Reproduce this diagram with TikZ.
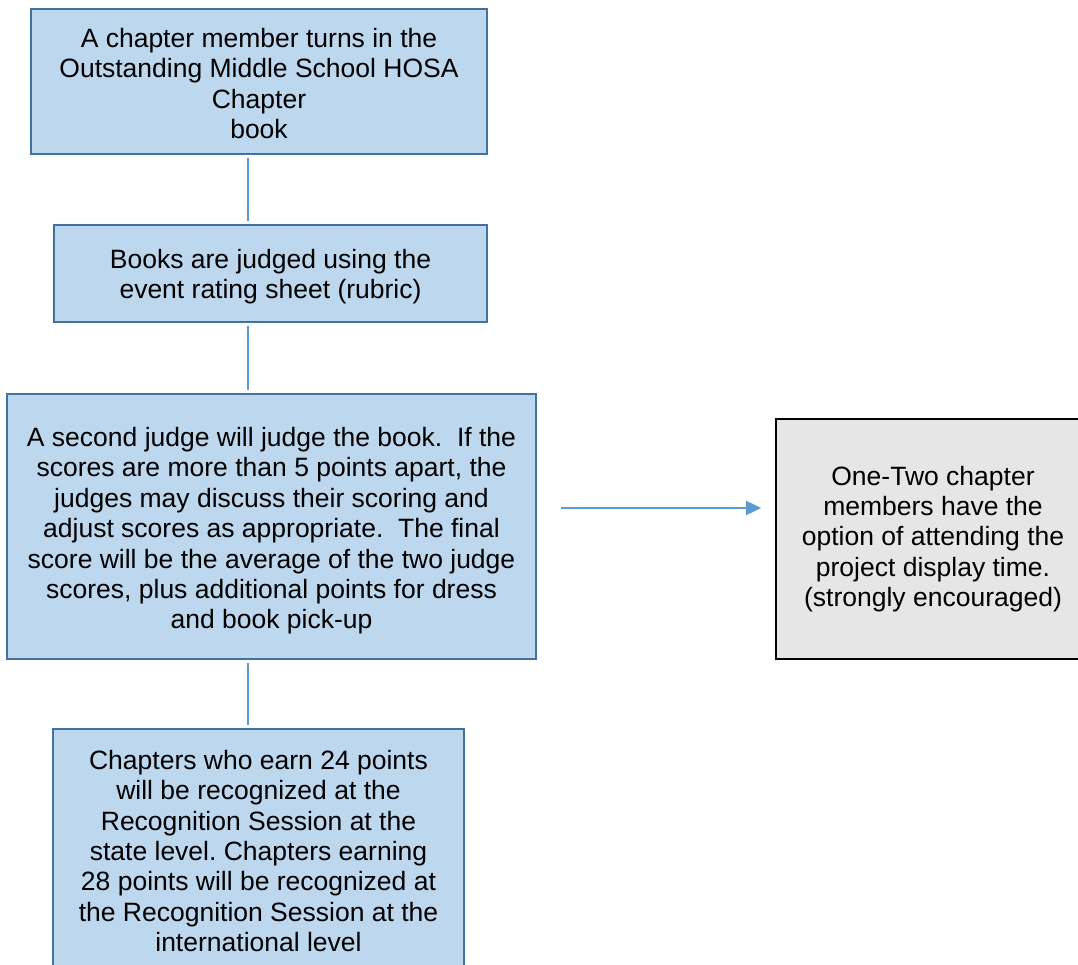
\documentclass[tikz,border=0pt]{standalone}
\usepackage{fontspec}
\setmainfont{Liberation Sans}
\usetikzlibrary{arrows.meta}
\frenchspacing
\definecolor{boxfill}{HTML}{BDD7EE}
\definecolor{boxline}{HTML}{41719C}
\definecolor{conn}{HTML}{5B9BD5}
\definecolor{grayfill}{HTML}{E6E6E6}
\begin{document}
\begin{tikzpicture}[x=1pt,y=-1pt,
  bluebox/.style={draw=boxline, fill=boxfill, line width=2pt, rectangle, align=center, inner sep=0pt,
    font=\fontsize{26.5}{30.4}\selectfont},
  graybox/.style={draw=black, fill=grayfill, line width=1.6pt, rectangle, align=center, inner sep=0pt,
    font=\fontsize{26.5}{30.4}\selectfont},
  link/.style={draw=conn, line width=1.4pt},
  arrowlink/.style={draw=conn, line width=1.4pt, -{Triangle[length=15pt,width=14pt]}}]
\useasboundingbox (0,0) rectangle (1078,965);
\clip (0,0) rectangle (1078,965);
\node[bluebox, minimum width=456pt, minimum height=145pt] (b1) at (259,81.5)
  {\rule{0pt}{23.5pt}A chapter member turns in the\\Outstanding Middle School HOSA\\Chapter\\book};
\node[bluebox, minimum width=433pt, minimum height=97pt] (b2) at (270.5,273.5)
  {\rule{0pt}{25.5pt}Books are judged using the\\event rating sheet (rubric)};
\node[bluebox, minimum width=529pt, minimum height=265pt] (b3) at (271.5,526)
  {\rule{0pt}{29pt}A second judge will judge the book.\ \ If the\\scores are more than 5 points apart, the\\judges may discuss their scoring and\\adjust scores as appropriate.\ \ The final\\score will be the average of the two judge\\scores, plus additional points for dress\\and book pick-up};
\node[bluebox, minimum width=411pt, minimum height=244pt] (b4) at (258.5,851)
  {Chapters who earn 24 points\\will be recognized at the\\Recognition Session at the\\state level. Chapters earning\\28 points will be recognized at\\the Recognition Session at the\\international level};
\node[graybox, minimum width=314pt, minimum height=240pt] (g) at (933,539)
  {One-Two chapter\\members have the\\option of attending the\\project display time.\\(strongly encouraged)};
\coordinate (axis) at (248,0);
\coordinate (row) at (0,508);
\draw[link, shorten <=3pt, shorten >=3pt] (b1.south -| axis) -- (b2.north -| axis);
\draw[link, shorten <=3pt, shorten >=3pt] (b2.south -| axis) -- (b3.north -| axis);
\draw[link, shorten <=3pt, shorten >=3pt] (b3.south -| axis) -- (b4.north -| axis);
\draw[arrowlink, shorten <=24pt, shorten >=14pt] (b3.east |- row) -- (g.west |- row);
\end{tikzpicture}
\end{document}
